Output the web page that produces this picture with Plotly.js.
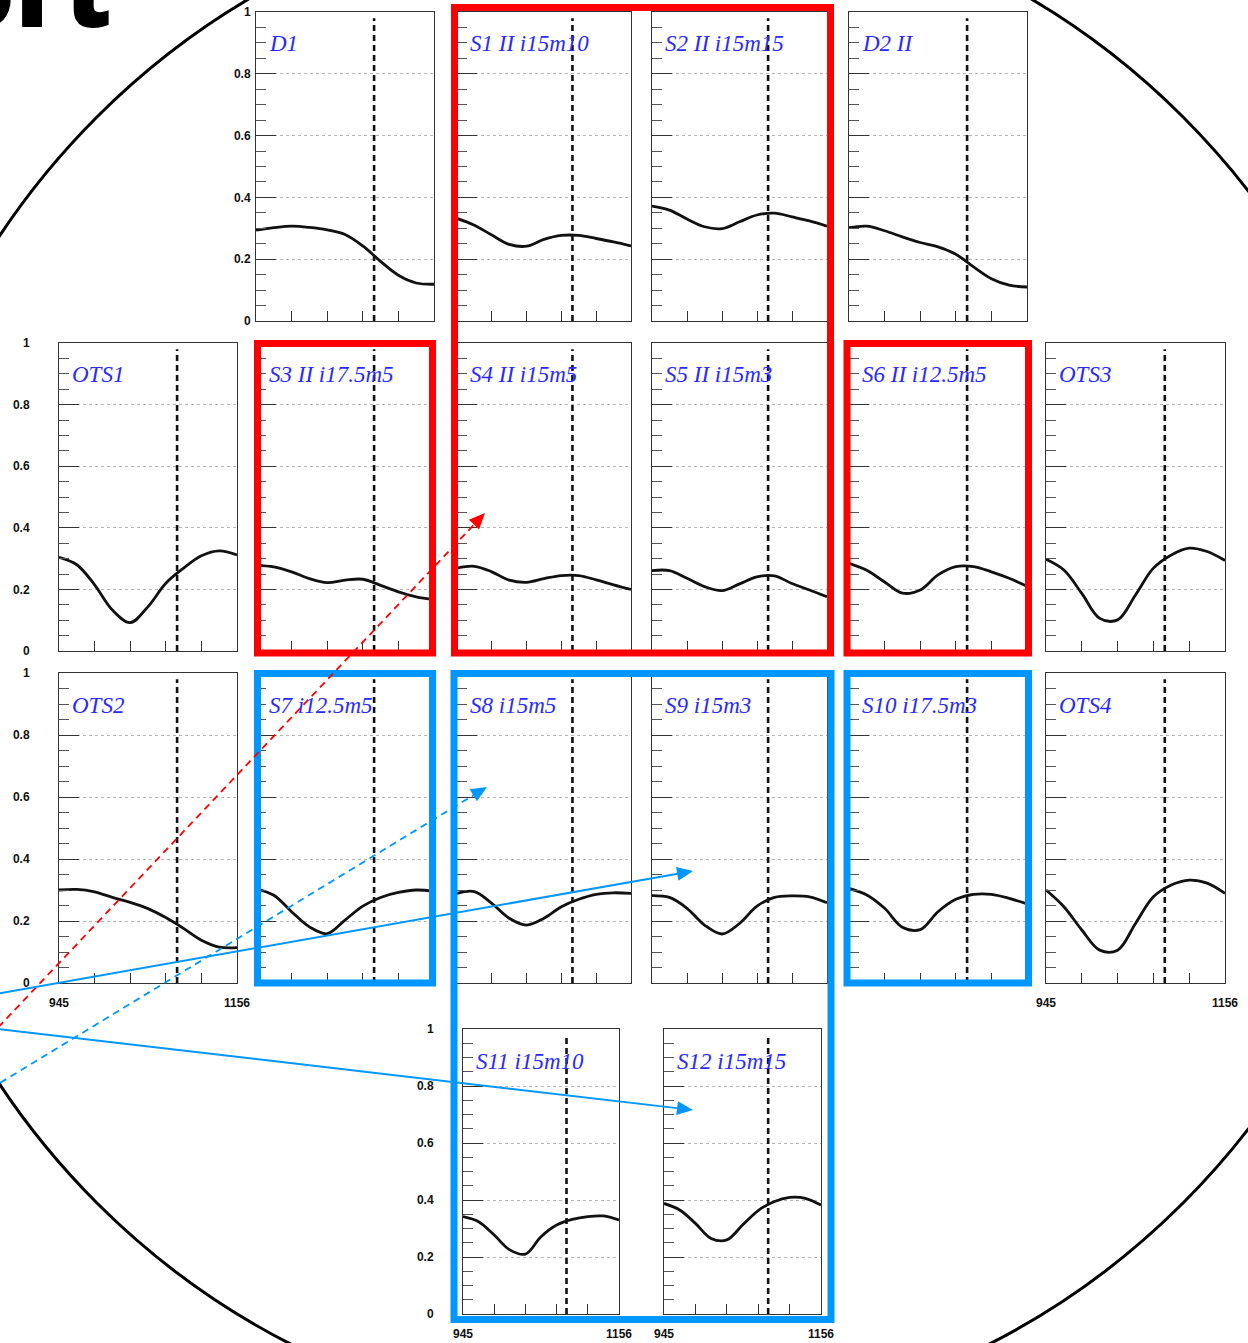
<!DOCTYPE html>
<html><head><meta charset="utf-8">
<script src="https://cdn.plot.ly/plotly-3.0.1.min.js"></script>
<style>html,body{margin:0;padding:0;background:#fff;overflow:hidden}#chart{width:1248px;height:1343px}</style>
</head><body><div id="chart"></div>
<script>
// ---- data ----
const xGrid = [945, 966.1, 987.2, 1008.3, 1029.4, 1050.5, 1071.6, 1092.7, 1113.8, 1134.9, 1156];
const yD1   = [0.294, 0.302, 0.307, 0.303, 0.295, 0.280, 0.243, 0.193, 0.148, 0.123, 0.119];
const yS1   = [0.332, 0.310, 0.278, 0.248, 0.242, 0.264, 0.277, 0.277, 0.267, 0.256, 0.243];
const yS2   = [0.372, 0.359, 0.330, 0.305, 0.299, 0.321, 0.343, 0.349, 0.337, 0.324, 0.307];
const yD2   = [0.302, 0.307, 0.292, 0.272, 0.254, 0.240, 0.216, 0.175, 0.137, 0.116, 0.110];
const yOTS1 = [0.304, 0.280, 0.215, 0.133, 0.092, 0.144, 0.220, 0.269, 0.309, 0.325, 0.312];
const yS3   = [0.278, 0.273, 0.257, 0.235, 0.222, 0.230, 0.233, 0.213, 0.192, 0.176, 0.167];
const yS4   = [0.269, 0.275, 0.257, 0.230, 0.223, 0.235, 0.245, 0.245, 0.231, 0.215, 0.200];
const yS5   = [0.261, 0.261, 0.236, 0.209, 0.196, 0.218, 0.241, 0.244, 0.219, 0.198, 0.176];
const yS6   = [0.285, 0.262, 0.224, 0.188, 0.198, 0.247, 0.274, 0.274, 0.257, 0.236, 0.210];
const yOTS3 = [0.298, 0.263, 0.187, 0.106, 0.101, 0.182, 0.269, 0.312, 0.334, 0.323, 0.294];
const yOTS2 = [0.300, 0.302, 0.294, 0.276, 0.260, 0.240, 0.211, 0.176, 0.138, 0.116, 0.114];
const yS7   = [0.304, 0.283, 0.230, 0.181, 0.159, 0.203, 0.248, 0.276, 0.292, 0.300, 0.296];
const yS8   = [0.289, 0.295, 0.257, 0.209, 0.187, 0.209, 0.246, 0.270, 0.286, 0.291, 0.289];
const yS9   = [0.282, 0.276, 0.241, 0.187, 0.158, 0.192, 0.248, 0.276, 0.281, 0.278, 0.259];
const yS10  = [0.305, 0.284, 0.241, 0.180, 0.172, 0.230, 0.270, 0.286, 0.286, 0.273, 0.255];
const yOTS4 = [0.300, 0.246, 0.171, 0.106, 0.106, 0.192, 0.278, 0.316, 0.332, 0.322, 0.289];
const yS11  = [0.342, 0.324, 0.277, 0.225, 0.210, 0.271, 0.312, 0.332, 0.342, 0.344, 0.330];
const yS12  = [0.388, 0.365, 0.318, 0.265, 0.260, 0.312, 0.363, 0.394, 0.409, 0.406, 0.382];

const yTickVals = [0, 0.2, 0.4, 0.6, 0.8, 1];
const yTickText = ['0', '0.2', '0.4', '0.6', '0.8', '1'];
const xTickVals = [945, 987.2, 1029.4, 1071.6, 1113.8, 1156];
const xTickText = ['945', '', '', '', '', '1156'];
const cutX = 1085;
const xRange = [945, 1156];

// ---- layout geometry (pixels) ----
const W = 1248, H = 1343;
const X = px => px / W;
const Y = py => 1 - py / H;
const rows = {r1: [12, 321], r2: [343, 651], r3: [673, 983], r4: [1029, 1314]};
const cols = [[59, 237], [256, 434], [457, 631], [652, 827], [849, 1027], [1046, 1225]];

const panels = [
  {label: 'D1',            y: yD1,   c: cols[1], r: rows.r1, yl: 2},
  {label: 'S1 II i15m10',  y: yS1,   c: cols[2], r: rows.r1},
  {label: 'S2 II i15m15',  y: yS2,   c: cols[3], r: rows.r1},
  {label: 'D2 II',         y: yD2,   c: cols[4], r: rows.r1},
  {label: 'OTS1',          y: yOTS1, c: cols[0], r: rows.r2, yl: 26},
  {label: 'S3 II i17.5m5', y: yS3,   c: cols[1], r: rows.r2},
  {label: 'S4 II i15m5',   y: yS4,   c: cols[2], r: rows.r2},
  {label: 'S5 II i15m3',   y: yS5,   c: cols[3], r: rows.r2},
  {label: 'S6 II i12.5m5', y: yS6,   c: cols[4], r: rows.r2},
  {label: 'OTS3',          y: yOTS3, c: cols[5], r: rows.r2},
  {label: 'OTS2',          y: yOTS2, c: cols[0], r: rows.r3, yl: 26, xl: true},
  {label: 'S7 i12.5m5',    y: yS7,   c: cols[1], r: rows.r3},
  {label: 'S8 i15m5',      y: yS8,   c: cols[2], r: rows.r3},
  {label: 'S9 i15m3',      y: yS9,   c: cols[3], r: rows.r3},
  {label: 'S10 i17.5m3',   y: yS10,  c: cols[4], r: rows.r3},
  {label: 'OTS4',          y: yOTS4, c: cols[5], r: rows.r3, xl: true},
  {label: 'S11 i15m10',    y: yS11,  c: [463, 619], r: rows.r4, yl: 26, xl: true},
  {label: 'S12 i15m15',    y: yS12,  c: [664, 821], r: rows.r4, xl: true}
];

const tickFont = {family: 'Liberation Sans', size: 12, color: '#111', weight: 'bold'};
const traces = [];
const layout = {
  width: W, height: H, margin: {l: 0, r: 0, t: 0, b: 0},
  paper_bgcolor: '#fff', plot_bgcolor: '#fff', showlegend: false, hovermode: false,
  shapes: [], annotations: []
};

panels.forEach((p, i) => {
  const n = i + 1, sfx = n === 1 ? '' : String(n);
  const xa = 'x' + sfx, ya = 'y' + sfx;
  traces.push({type: 'scatter', mode: 'lines', x: xGrid, y: p.y, xaxis: xa, yaxis: ya,
    line: {color: '#111', width: 2.8, shape: 'spline', smoothing: 1}});
  traces.push({type: 'scatter', mode: 'lines', x: [cutX, cutX], y: [0, 0.98], xaxis: xa, yaxis: ya,
    line: {color: '#111', width: 2.6, dash: '6px,4px'}});
  layout['xaxis' + sfx] = {
    domain: [X(p.c[0]), X(p.c[1])], anchor: ya, range: xRange, fixedrange: true,
    tickmode: 'array', tickvals: xTickVals, ticktext: xTickText,
    ticks: 'inside', ticklen: 10, tickcolor: '#333', tickwidth: 1,
    showticklabels: !!p.xl, tickfont: tickFont, ticklabelstandoff: 9,
    showgrid: false, zeroline: false, showline: true, mirror: true, linecolor: '#333', linewidth: 1
  };
  layout['yaxis' + sfx] = {
    domain: [Y(p.r[1]), Y(p.r[0])], anchor: xa, range: [0, 1], fixedrange: true,
    tickmode: 'array', tickvals: yTickVals, ticktext: yTickText,
    ticks: 'inside', ticklen: 20, tickcolor: '#333', tickwidth: 1,
    minor: {ticks: 'inside', ticklen: 10, tickmode: 'linear', tick0: 0, dtick: 0.05, tickcolor: '#555', showgrid: false},
    showticklabels: p.yl !== undefined, tickfont: tickFont, ticklabelstandoff: p.yl || 0,
    showgrid: true, gridcolor: '#b5b5b5', griddash: 'dot', gridwidth: 1,
    zeroline: false, showline: true, mirror: true, linecolor: '#333', linewidth: 1
  };
  layout.annotations.push({
    xref: 'paper', yref: 'paper', x: X(p.c[0] + 11), y: Y(p.r[0] + 32),
    xanchor: 'left', yanchor: 'middle', showarrow: false, text: p.label,
    font: {family: 'Liberation Serif', size: 23, style: 'italic', color: '#2a2aff'}
  });
});

// ---- decorations ----
const RED = '#ff0000', BLUE = '#0096ff';
function rect(x0, y0, x1, y1, color) {
  return {type: 'rect', xref: 'paper', yref: 'paper', x0: X(x0), x1: X(x1), y0: Y(y1), y1: Y(y0),
    line: {color: color, width: 7}, layer: 'above'};
}
layout.shapes.push(
  {type: 'circle', xref: 'paper', yref: 'paper', x0: X(640 - 768), x1: X(640 + 768), y0: Y(660 + 768), y1: Y(660 - 768),
   line: {color: '#000', width: 3}, layer: 'above'},
  rect(454.5, 7.5, 830.5, 653, RED),
  rect(257.5, 343.5, 432.5, 653, RED),
  rect(847, 343.5, 1028.5, 653, RED),
  rect(454, 673.5, 831, 1319.5, BLUE),
  rect(257.5, 673.5, 432.5, 983, BLUE),
  rect(847, 673.5, 1028.5, 983, BLUE)
);
function arrow(x1, y1, x2, y2, color, dash, width) {
  const dx = x2 - x1, dy = y2 - y1, L = Math.hypot(dx, dy), ux = dx / L, uy = dy / L;
  const len = 16, hw = 7;
  const bx = x2 - ux * len, by = y2 - uy * len, nx = -uy, ny = ux;
  layout.shapes.push({type: 'line', xref: 'paper', yref: 'paper', x0: X(x1), y0: Y(y1), x1: X(bx + ux * 2), y1: Y(by + uy * 2),
    line: {color: color, width: width, dash: dash}, layer: 'above'});
  layout.shapes.push({type: 'path', xref: 'paper', yref: 'paper', layer: 'above',
    path: `M ${X(x2)},${Y(y2)} L ${X(bx + nx * hw)},${Y(by + ny * hw)} L ${X(bx - nx * hw)},${Y(by - ny * hw)} Z`,
    fillcolor: color, line: {color: color, width: 0}});
}
arrow(-10, 1036, 485, 513, RED, '7px,5px', 1.8);
arrow(-10, 1089, 487, 787, BLUE, '7px,5px', 1.8);
arrow(-10, 995, 693, 871, BLUE, 'solid', 2);
arrow(-10, 1028, 693, 1110, BLUE, 'solid', 2);

layout.annotations.push({xref: 'paper', yref: 'paper', x: X(114), y: Y(59), xanchor: 'right', yanchor: 'bottom',
  showarrow: false, text: 'ort', font: {family: 'Open Sans', size: 104, weight: 800, color: '#000'}});

Plotly.newPlot('chart', traces, layout, {staticPlot: true, displayModeBar: false});
</script></body></html>
